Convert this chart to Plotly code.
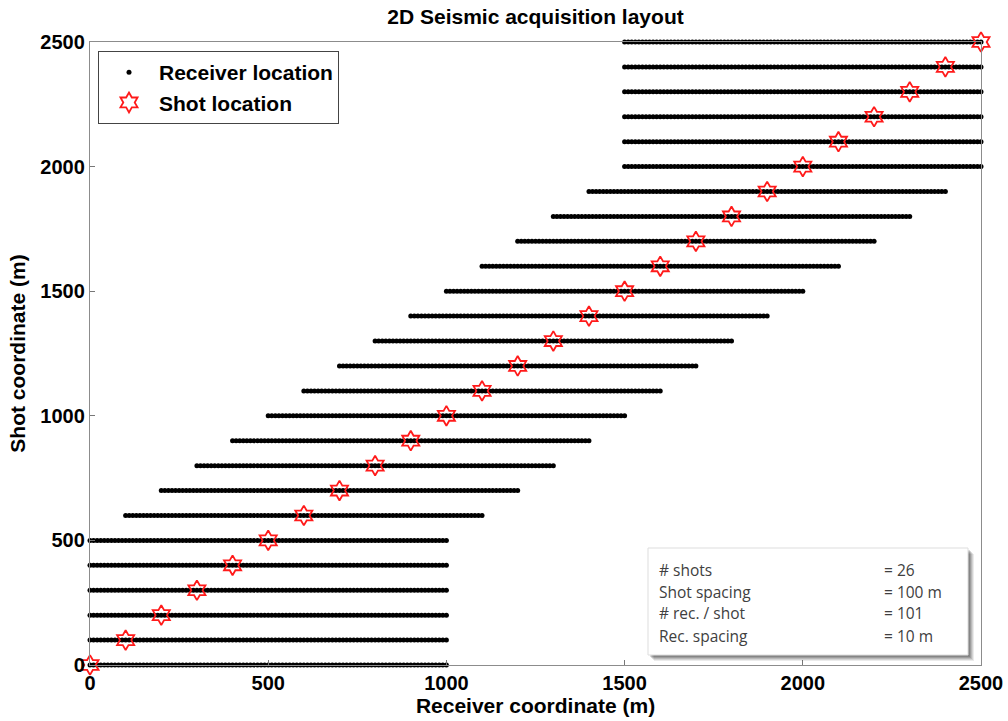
import numpy as np
import plotly.graph_objects as go

# ---- data ----
shot_coords = [0, 100, 200, 300, 400, 500, 600, 700, 800, 900, 1000, 1100, 1200,
               1300, 1400, 1500, 1600, 1700, 1800, 1900, 2000, 2100, 2200, 2300,
               2400, 2500]
receiver_start = [0, 0, 0, 0, 0, 0, 100, 200, 300, 400, 500, 600, 700,
                  800, 900, 1000, 1100, 1200, 1300, 1400, 1500, 1500, 1500, 1500,
                  1500, 1500]
n_rec_per_shot = 101
rec_spacing = 10
tick_vals = [0, 500, 1000, 1500, 2000, 2500]
info_labels = ["# shots", "Shot spacing", "# rec. / shot", "Rec. spacing"]
info_values = ["= 26", "= 100 m", "= 101", "= 10 m"]

# receiver points for each shot (101 receivers at 10 m from each spread start)
rec_x, rec_y = [], []
for s, r0 in zip(shot_coords, receiver_start):
    xs = r0 + rec_spacing * np.arange(n_rec_per_shot)
    rec_x.extend(xs.tolist())
    rec_y.extend([s] * n_rec_per_shot)

# ---- layout geometry (pixels) ----
W, H = 1008, 721
L, R, T, B = 90, 27, 42, 56
PW, PH = W - L - R, H - T - B
FONT = "Liberation Sans, Arial"

def px(x):
    return (x - L) / PW

def py(y):
    return (H - B - y) / PH

fig = go.Figure()
fig.add_trace(go.Scatter(
    x=rec_x, y=rec_y, mode="markers", name="Receiver location",
    marker=dict(symbol="circle", size=5, color="black", line=dict(width=0)),
    cliponaxis=False,
))
fig.add_trace(go.Scatter(
    x=shot_coords, y=shot_coords, mode="markers", name="Shot location",
    marker=dict(symbol="hexagram-open", size=15, color="#ff1a1a",
                line=dict(width=1.8, color="#ff1a1a")),
    cliponaxis=False,
))

axis_common = dict(
    range=[0, 2500], tickvals=tick_vals, ticks="inside", ticklen=5,
    tickcolor="#777777", showline=True, linecolor="#8c8c8c", linewidth=1.3,
    mirror=True, showgrid=False, zeroline=False, automargin=False,
    tickfont=dict(family=FONT, size=20, color="black", weight="bold"),
)

fig.update_layout(
    width=W, height=H,
    margin=dict(l=L, r=R, t=T, b=B, autoexpand=False),
    paper_bgcolor="white", plot_bgcolor="white",
    title=dict(text="2D Seismic acquisition layout", x=(L + PW / 2) / W,
               xanchor="center", y=1 - 17 / H, yanchor="middle",
               font=dict(family=FONT, size=21, color="black", weight="bold")),
    xaxis=dict(**axis_common,
               title=dict(text="Receiver coordinate (m)", standoff=2,
                          font=dict(family=FONT, size=21, color="black",
                                    weight="bold"))),
    yaxis=dict(**axis_common,
               title=dict(text="Shot coordinate (m)", standoff=8,
                          font=dict(family=FONT, size=21, color="black",
                                    weight="bold"))),
    legend=dict(x=px(98), y=py(51), xanchor="left", yanchor="top",
                bgcolor="white", bordercolor="#444444", borderwidth=1,
                font=dict(family=FONT, size=21, color="black", weight="bold"),
                itemsizing="trace", itemwidth=50, tracegroupgap=0),
    showlegend=True,
)

# info box with soft shadow
bx0, bx1, by0, by1 = 648, 968, 548, 655
for off, alpha in [(6, 0.08), (5, 0.10), (4, 0.12), (3, 0.15), (2, 0.15)]:
    fig.add_shape(type="rect", xref="paper", yref="paper", layer="above",
                  x0=px(bx0 + off), x1=px(bx1 + off), y0=py(by1 + off),
                  y1=py(by0 + off), line=dict(width=0),
                  fillcolor=f"rgba(0,0,0,{alpha})")
fig.add_shape(type="rect", xref="paper", yref="paper", layer="above",
              x0=px(bx0), x1=px(bx1), y0=py(by1), y1=py(by0),
              line=dict(width=1, color="#dddddd"), fillcolor="white")

line_y = [570, 592, 613, 636]
for lab, val, yy in zip(info_labels, info_values, line_y):
    fig.add_annotation(x=px(657), y=py(yy), xref="paper", yref="paper",
                       text=lab, showarrow=False, xanchor="left",
                       yanchor="middle",
                       font=dict(family="Open Sans", size=15.5, color="#404040"))
    fig.add_annotation(x=px(882), y=py(yy), xref="paper", yref="paper",
                       text=val, showarrow=False, xanchor="left",
                       yanchor="middle",
                       font=dict(family="Open Sans", size=15.5, color="#404040"))

fig.write_html("out.html")
